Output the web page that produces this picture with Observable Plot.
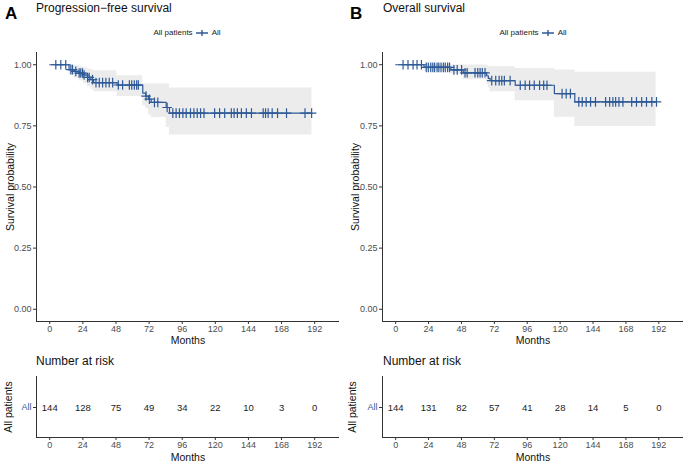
<!DOCTYPE html>
<html><head><meta charset="utf-8">
<script src="https://cdn.jsdelivr.net/npm/d3@7"></script>
<script src="https://cdn.jsdelivr.net/npm/@observablehq/plot@0.6"></script>
<style>
body{margin:0;background:#fff;font-family:"Liberation Sans",Arial,sans-serif;}
#root{position:relative;width:687px;height:466px;overflow:hidden;background:#fff}
.abs{position:absolute;white-space:nowrap;line-height:1}
.legend{position:absolute;display:flex;align-items:center;gap:3px;font-size:8px;color:#222;transform:translateX(-50%)}
</style></head><body><div id="root"></div>
<script>
// ---- shared axis values ----
const monthTicks = [0, 24, 48, 72, 96, 120, 144, 168, 192];
const survTicks = [0, 0.25, 0.5, 0.75, 1];
const groupLabel = "All";

// ---- Panel A: Progression-free survival ----
const pfsTime  = [0, 14, 17.7, 21.3, 24.5, 27.4, 29.8, 31.8, 48.7, 67.4, 69.5, 71.5, 73.5, 84.4, 86.8, 190];
const pfsSurv  = [1, 0.980, 0.973, 0.966, 0.958, 0.948, 0.939, 0.927, 0.917, 0.884, 0.872, 0.859, 0.846, 0.825, 0.802, 0.802];
const pfsLower = [1, 0.958, 0.945, 0.933, 0.922, 0.910, 0.900, 0.889, 0.870, 0.832, 0.820, 0.795, 0.784, 0.743, 0.713, 0.713];
const pfsUpper = [1, 0.999, 0.996, 0.992, 0.988, 0.983, 0.978, 0.975, 0.955, 0.921, 0.921, 0.921, 0.921, 0.921, 0.905, 0.905];
const pfsCensor = [4.4, 8, 11.6, 15.3, 16.5, 18.9, 21.3, 22.5, 23.8, 24.9, 27.4, 28.6, 31, 33.5, 35.9, 38.3, 40.7, 43.1, 45.6,
  49.7, 52.8, 57.7, 59.4, 61.3, 63, 64.2, 69.8, 72.2, 75.9, 78.3, 85.1, 89.2, 91.6, 94, 96.5, 98.9, 102, 104.5, 106.9,
  109.3, 111.8, 119.5, 123.1, 126.8, 131.6, 133.6, 136, 138.9, 142.5, 146.2, 154.7, 156.4, 158.3, 161.2, 165.1, 171.6, 185, 189.8];
const pfsRisk = [144, 128, 75, 49, 34, 22, 10, 3, 0];

// ---- Panel B: Overall survival ----
const osTime  = [0, 20.7, 40.3, 49.3, 66.4, 67.6, 68.9, 87.2, 115.8, 130.7, 190];
const osSurv  = [1, 0.989, 0.979, 0.967, 0.955, 0.944, 0.935, 0.916, 0.882, 0.848, 0.848];
const osLower = [1, 0.975, 0.962, 0.939, 0.920, 0.905, 0.889, 0.853, 0.785, 0.747, 0.747];
const osUpper = [1, 1, 1, 0.999, 0.996, 0.994, 0.992, 0.985, 0.978, 0.969, 0.969];
const osCensor = [5.4, 9, 12.7, 15.6, 18.8, 22.3, 23.8, 25.6, 27.1, 28.4, 30.2, 31.5, 33.1, 34.8, 36.2, 37.9, 39.3,
  42.5, 44.9, 48.1, 50.6, 52.2, 57.9, 59.9, 61.6, 63.2, 65.2, 70.1, 73, 75.5, 77.4, 79.3, 83.5, 90.9, 94.5, 97.7,
  101.1, 105, 108, 110.4, 121.4, 124.4, 127.5, 133.6, 136.1, 139, 142.2, 145.8, 153.2, 156.1, 158.5, 160.5, 162.9,
  165.8, 172.2, 175.7, 179.5, 183, 186.9, 190.3];
const osRisk = [144, 131, 82, 57, 41, 28, 14, 5, 0];

// ---- styling ----
const BLUE = "#2f5a98";
const BAND = "#ececec";
const AXIS = "#333333";
const TICKTXT = "#4d4d4d";
const FONT = "Liberation Sans, Arial, sans-serif";
const X_DOMAIN = [-9.6, 210];
const Y_DOMAIN = [-0.05, 1.05];

const root = document.getElementById("root");

function addText(txt, left, top, css) {
  const d = document.createElement("div");
  d.className = "abs";
  d.textContent = txt;
  d.style.left = left + "px";
  d.style.top = top + "px";
  Object.assign(d.style, css || {});
  root.appendChild(d);
  return d;
}

function addLegend(cx, top) {
  const d = document.createElement("div");
  d.className = "legend";
  d.style.left = cx + "px";
  d.style.top = top + "px";
  const t1 = document.createElement("span"); t1.textContent = "All patients";
  const ns = "http://www.w3.org/2000/svg";
  const svg = document.createElementNS(ns, "svg");
  svg.setAttribute("width", "13"); svg.setAttribute("height", "8");
  const l = document.createElementNS(ns, "path");
  l.setAttribute("d", "M0.5,4H12.5M6.5,1V7");
  l.setAttribute("stroke", BLUE); l.setAttribute("stroke-width", "1.4"); l.setAttribute("fill", "none");
  svg.appendChild(l);
  const t2 = document.createElement("span"); t2.textContent = groupLabel;
  d.append(t1, svg, t2);
  root.appendChild(d);
}

function survPanel(opts) {
  const {time, surv, lower, upper, censor, left, mLeft, mRight, yLabelDx} = opts;
  const steps = time.map((t, i) => ({t, s: surv[i], lo: lower[i], hi: upper[i]}));
  const cens = censor.map(t => ({t, s: surv[Math.max(0, d3.bisectRight(time, t) - 1)]}));
  const p = Plot.plot({
    width: 345, height: 310,
    marginLeft: mLeft, marginRight: mRight, marginTop: 12, marginBottom: 29,
    style: {fontFamily: FONT, fontSize: "9px", background: "transparent", overflow: "visible"},
    x: {domain: X_DOMAIN},
    y: {domain: Y_DOMAIN},
    marks: [
      Plot.areaY(steps, {x: "t", y1: "lo", y2: "hi", curve: "step-after", fill: BAND}),
      Plot.line(steps, {x: "t", y: "s", curve: "step-after", stroke: BLUE, strokeWidth: 1.2}),
      Plot.dot(cens, {x: "t", y: "s", symbol: "plus", r: 3.2, stroke: BLUE, strokeWidth: 1.2}),
      Plot.axisX({ticks: monthTicks, tickFormat: d => String(d), tickSize: 3, tickPadding: 1, stroke: AXIS, fill: TICKTXT, label: null}),
      Plot.axisY({ticks: survTicks, tickFormat: d3.format(".2f"), tickSize: 3, tickPadding: 2, stroke: AXIS, fill: TICKTXT, label: null}),
      Plot.ruleX([X_DOMAIN[0]], {y1: Y_DOMAIN[0], y2: Y_DOMAIN[1], stroke: AXIS, strokeWidth: 1}),
      Plot.ruleY([Y_DOMAIN[0]], {x1: X_DOMAIN[0], x2: X_DOMAIN[1], stroke: AXIS, strokeWidth: 1}),
      Plot.text(["Months"], {frameAnchor: "bottom", textAnchor: "middle", dy: 22, fontSize: 10.5, fill: "#111"}),
      Plot.text(["Survival probability"], {frameAnchor: "left", textAnchor: "middle", rotate: -90, dx: yLabelDx, fontSize: 10.5, fill: "#111"})
    ]
  });
  p.style.position = "absolute";
  p.style.left = left + "px";
  p.style.top = "40px";
  root.appendChild(p);
}

function riskPanel(opts) {
  const {risk, left, mLeft, mRight, yLabelDx} = opts;
  const rows = risk.map((n, i) => ({t: monthTicks[i], n, g: groupLabel}));
  const p = Plot.plot({
    width: 345, height: 96,
    marginLeft: mLeft, marginRight: mRight, marginTop: 6, marginBottom: 29,
    style: {fontFamily: FONT, fontSize: "9px", background: "transparent", overflow: "visible"},
    x: {domain: X_DOMAIN},
    y: {type: "point", domain: [groupLabel]},
    marks: [
      Plot.text(rows, {x: "t", y: "g", text: d => String(d.n), fontSize: 9.5, fill: "#222"}),
      Plot.axisX({ticks: monthTicks, tickFormat: d => String(d), tickSize: 3, tickPadding: 1, stroke: AXIS, fill: TICKTXT, label: null}),
      Plot.axisY({tickSize: 3, tickPadding: 2, stroke: AXIS, fill: BLUE, label: null}),
      Plot.ruleX([X_DOMAIN[0]], {stroke: AXIS, strokeWidth: 1}),
      Plot.text(["Months"], {frameAnchor: "bottom", textAnchor: "middle", dy: 23, fontSize: 10.5, fill: "#111"}),
      Plot.text(["All patients"], {frameAnchor: "left", textAnchor: "middle", rotate: -90, dx: yLabelDx, fontSize: 10.5, fill: "#111"})
    ]
  });
  p.style.position = "absolute";
  p.style.left = left + "px";
  p.style.top = "370px";
  root.appendChild(p);
  // bottom axis line of the risk table frame
  const ns = "http://www.w3.org/2000/svg";
  const line = document.createElementNS(ns, "line");
  const xs = p.scale("x");
  line.setAttribute("x1", xs.apply(X_DOMAIN[0]));
  line.setAttribute("x2", xs.apply(X_DOMAIN[1]));
  line.setAttribute("y1", 96 - 29 + 0.5);
  line.setAttribute("y2", 96 - 29 + 0.5);
  line.setAttribute("stroke", AXIS);
  p.appendChild(line);
}

// Panel A
addText("A", 5, 5, {fontSize: "17px", fontWeight: "bold", color: "#000"});
addText("Progression\u2212free survival", 36, 2, {fontSize: "12px", color: "#111"});
addLegend(187, 28);
survPanel({time: pfsTime, surv: pfsSurv, lower: pfsLower, upper: pfsUpper, censor: pfsCensor,
  left: 0, mLeft: 36, mRight: 6, yLabelDx: -26});
addText("Number at risk", 36, 355, {fontSize: "12px", color: "#111"});
riskPanel({risk: pfsRisk, left: 0, mLeft: 36, mRight: 6, yLabelDx: -28});

// Panel B
addText("B", 350, 5, {fontSize: "17px", fontWeight: "bold", color: "#000"});
addText("Overall survival", 383, 2, {fontSize: "12px", color: "#111"});
addLegend(533, 28);
survPanel({time: osTime, surv: osSurv, lower: osLower, upper: osUpper, censor: osCensor,
  left: 342, mLeft: 40, mRight: 4, yLabelDx: -27});
addText("Number at risk", 383, 355, {fontSize: "12px", color: "#111"});
riskPanel({risk: osRisk, left: 342, mLeft: 40, mRight: 4, yLabelDx: -30});
</script></body></html>
